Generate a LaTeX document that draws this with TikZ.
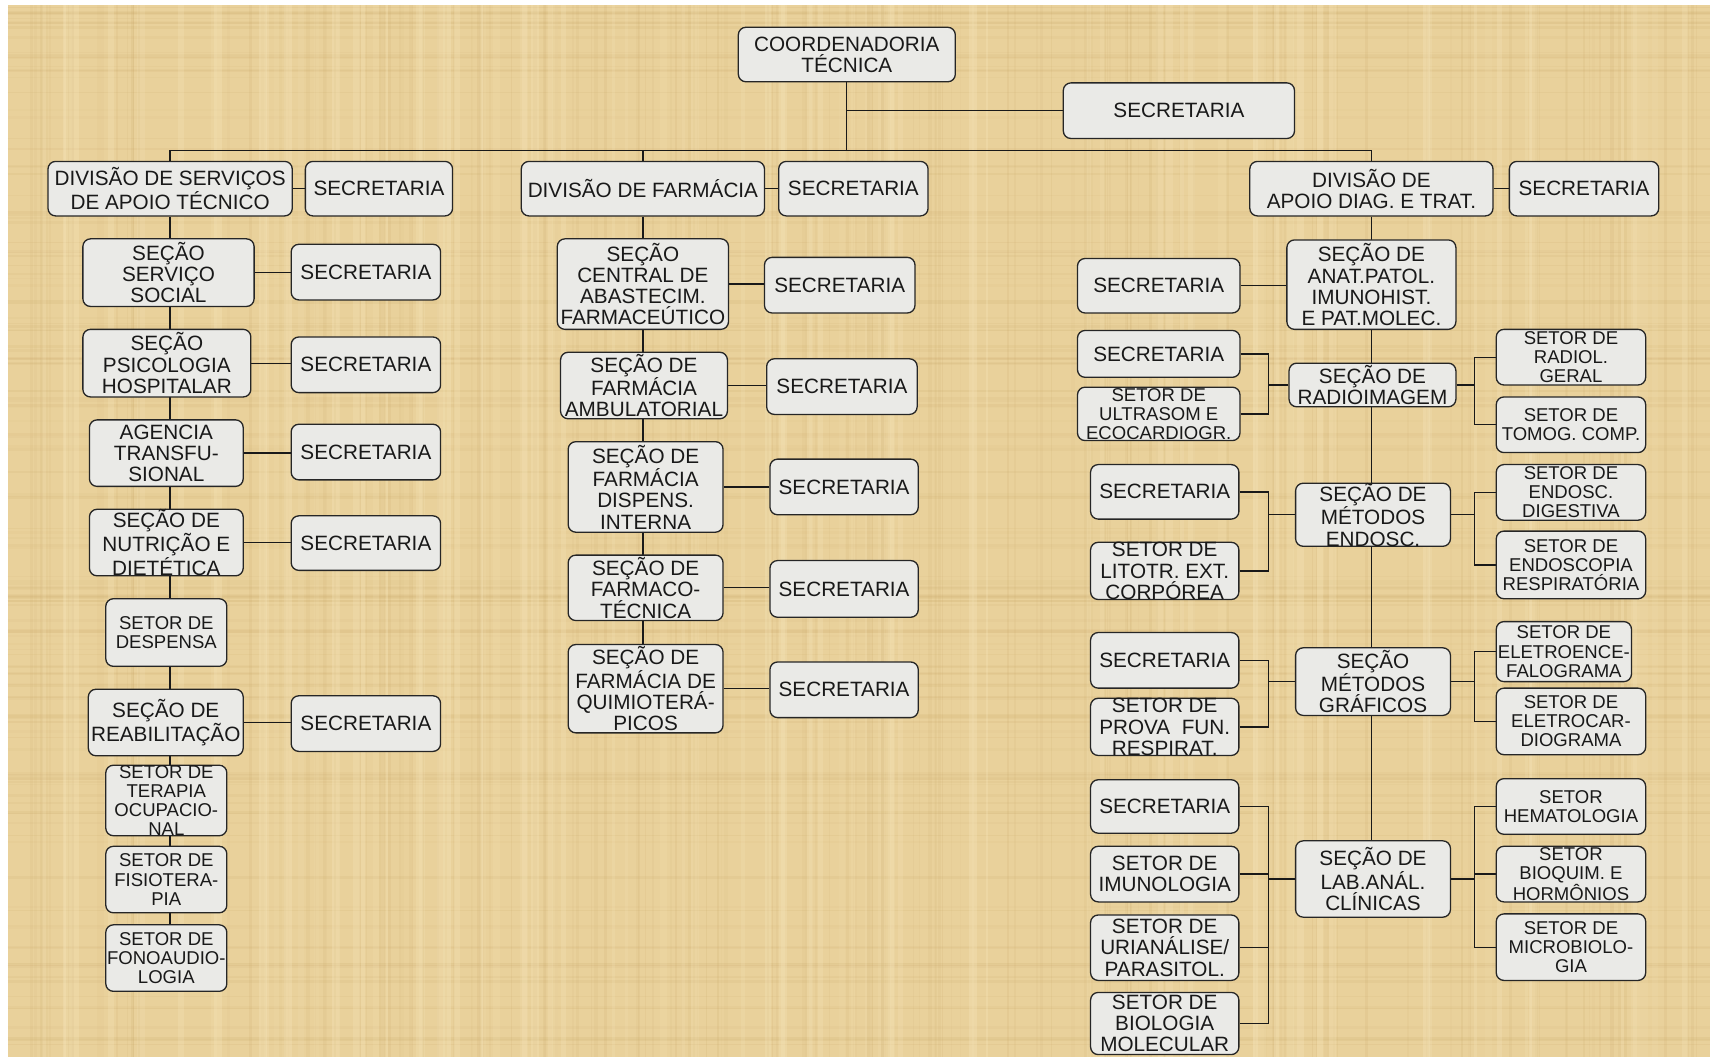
\documentclass[tikz,border=0pt]{standalone}
\usepackage{fontspec}
\setmainfont{Liberation Sans}
\usetikzlibrary{calc}
\definecolor{parch}{RGB}{233,209,155}
\definecolor{parchdark}{RGB}{196,160,95}
\definecolor{parchlight}{RGB}{248,232,190}
\definecolor{boxfill}{RGB}{234,234,231}
\definecolor{ink}{RGB}{25,25,25}
\pgfdeclarelayer{paper}
\pgfdeclarelayer{wires}
\pgfsetlayers{paper,wires,main}

\begin{document}
\begin{tikzpicture}[x=1pt,y=-1pt,
  boxat/.code args={#1/#2/#3/#4}{%
    \pgfmathsetmacro\spx{(#1+#3)/2}%
    \pgfmathsetmacro\spy{(#2+#4)/2}%
    \pgfmathsetmacro\spw{#3-#1}%
    \pgfmathsetmacro\sph{#4-#2}%
    \edef\sptmp{\noexpand\tikzset{at={(\spx,\spy)},minimum width=\spw pt,minimum height=\sph pt}}\sptmp},
  unit/.style={draw=black!85, line width=1.2pt, fill=boxfill, rounded corners=7pt,
    inner sep=0pt, align=center, text=ink, font=\fontsize{19}{19.5}\selectfont},
  small/.style={unit, font=\fontsize{17}{17.6}\selectfont},
  link/.style={draw=black!90, line width=1.2pt}]

\useasboundingbox (0,0) rectangle (1568,969);

% parchment sheet
\begin{pgfonlayer}{paper}
  \fill[white] (0,0) rectangle (1568,969);
  \fill[parch] (7,4.6) rectangle (1568,969);
  \pgfmathsetseed{11}
  \begin{scope}
    \clip (7,4.6) rectangle (1568,969);
    \foreach \i in {1,...,140}{
      \pgfmathsetmacro\yy{6+rnd*962}
      \pgfmathsetmacro\op{0.04+0.10*rnd}
      \pgfmathsetmacro\lw{0.8+2.5*rnd}
      \draw[parchdark, opacity=\op, line width=\lw pt] (7,\yy) -- (1568,\yy);
    }
    \foreach \i in {1,...,160}{
      \pgfmathsetmacro\xx{8+rnd*1560}
      \pgfmathsetmacro\op{0.04+0.10*rnd}
      \pgfmathsetmacro\lw{0.8+2.5*rnd}
      \draw[parchdark, opacity=\op, line width=\lw pt] (\xx,4.6) -- (\xx,969);
    }
    \foreach \i in {1,...,90}{
      \pgfmathsetmacro\xx{8+rnd*1560}
      \pgfmathsetmacro\op{0.10+0.20*rnd}
      \pgfmathsetmacro\lw{2+6*rnd}
      \draw[parchlight, opacity=\op, line width=\lw pt] (\xx,4.6) -- (\xx,969);
    }
  \end{scope}
\end{pgfonlayer}

% ---------- top level ----------
\node[unit, boxat=677/25/876/75] (coord) {COORDENADORIA\\TÉCNICA};
\node[unit, boxat=975/76/1187/127] (sec0) {SECRETARIA};

\node[unit, boxat=44/148/268/198] (div1) {DIVISÃO DE SERVIÇOS\\DE APOIO TÉCNICO};
\node[unit, boxat=280/148/415/198] (sec1) {SECRETARIA};
\node[unit, boxat=478/148/701/198] (div2) {DIVISÃO DE FARMÁCIA};
\node[unit, boxat=714/148/851/198] (sec2) {SECRETARIA};
\node[unit, boxat=1146/148/1369/198] (div3) {DIVISÃO DE\\APOIO DIAG. E TRAT.};
\node[unit, boxat=1384/148/1521/198] (sec3) {SECRETARIA};

% ---------- support services ----------
\node[unit, boxat=76/219/233/281] (ss) {SEÇÃO\\SERVIÇO\\SOCIAL};
\node[unit, boxat=267/224/404/275] (ssS) {SECRETARIA};
\node[unit, boxat=76/302/230/364] (ps) {SEÇÃO\\PSICOLOGIA\\HOSPITALAR};
\node[unit, boxat=267/309/404/360] (psS) {SECRETARIA};
\node[unit, boxat=82/385/223/446] (ag) {AGENCIA\\TRANSFU-\\SIONAL};
\node[unit, boxat=267/389/404/440] (agS) {SECRETARIA};
\node[unit, boxat=82/467/223/528] (nu) {SEÇÃO DE\\NUTRIÇÃO E\\DIETÉTICA};
\node[unit, boxat=267/473/404/523] (nuS) {SECRETARIA};
\node[small, boxat=97/549/208/611] (de) {SETOR DE\\DESPENSA};
\node[unit, boxat=81/632/223/693] (re) {SEÇÃO DE\\REABILITAÇÃO};
\node[unit, boxat=267/638/404/689] (reS) {SECRETARIA};
\node[small, boxat=97/703/208/765] (te) {SETOR DE\\TERAPIA\\OCUPACIO-\\NAL};
\node[small, boxat=97/776/208/837] (fi) {SETOR DE\\FISIOTERA-\\PIA};
\node[small, boxat=97/848/208/909] (fo) {SETOR DE\\FONOAUDIO-\\LOGIA};

% ---------- pharmacy ----------
\node[unit, boxat=511/219/668/302] (ce) {SEÇÃO\\CENTRAL DE\\ABASTECIM.\\FARMACEÚTICO};
\node[unit, boxat=701/236/839/287] (ceS) {SECRETARIA};
\node[unit, boxat=514/323/667/384] (am) {SEÇÃO DE\\FARMÁCIA\\AMBULATORIAL};
\node[unit, boxat=703/329/841/380] (amS) {SECRETARIA};
\node[unit, boxat=521/405/663/488] (di) {SEÇÃO DE\\FARMÁCIA\\DISPENS.\\INTERNA};
\node[unit, boxat=706/421/842/472] (diS) {SECRETARIA};
\node[unit, boxat=521/509/663/569] (ft) {SEÇÃO DE\\FARMACO-\\TÉCNICA};
\node[unit, boxat=706/514/842/566] (ftS) {SECRETARIA};
\node[unit, boxat=521/591/663/672] (qu) {SEÇÃO DE\\FARMÁCIA DE\\QUIMIOTERÁ-\\PICOS};
\node[unit, boxat=706/607/842/658] (quS) {SECRETARIA};

% ---------- diagnosis and treatment ----------
\node[unit, boxat=1180/220/1335/302] (an) {SEÇÃO DE\\ANAT.PATOL.\\IMUNOHIST.\\E PAT.MOLEC.};
\node[unit, boxat=988/237/1137/287] (anS) {SECRETARIA};

\node[unit, boxat=1182/333/1335/373] (ra) {SEÇÃO DE\\RADIOIMAGEM};
\node[unit, boxat=988/303/1137/346] (raS) {SECRETARIA};
\node[small, boxat=988/355/1137/404] (us) {SETOR DE\\ULTRASOM E\\ECOCARDIOGR.};
\node[small, boxat=1372/302/1509/353] (rg) {SETOR DE\\RADIOL.\\GERAL};
\node[small, boxat=1372/364/1509/415] (tc) {SETOR DE\\TOMOG. COMP.};

\node[unit, boxat=1188/446/1330/498] (en) {SEÇÃO DE\\MÉTODOS\\ENDOSC.};
\node[unit, boxat=1000/426/1136/476] (enS) {SECRETARIA};
\node[unit, boxat=1000/498/1136/549] (li) {SETOR DE\\LITOTR. EXT.\\CORPÓREA};
\node[small, boxat=1372/426/1509/477] (ed) {SETOR DE\\ENDOSC.\\DIGESTIVA};
\node[small, boxat=1372/487/1509/549] (er) {SETOR DE\\ENDOSCOPIA\\RESPIRATÓRIA};

\node[unit, boxat=1188/594/1330/656] (gr) {SEÇÃO\\MÉTODOS\\GRÁFICOS};
\node[unit, boxat=1000/580/1136/631] (grS) {SECRETARIA};
\node[unit, boxat=1000/641/1136/692] (pf) {SETOR DE\\PROVA~ FUN.\\RESPIRAT.};
\node[small, boxat=1372/570/1496/625] (ee) {SETOR DE\\ELETROENCE-\\FALOGRAMA};
\node[small, boxat=1372/631/1509/692] (ec) {SETOR DE\\ELETROCAR-\\DIOGRAMA};

\node[unit, boxat=1188/771/1330/841] (la) {SEÇÃO DE\\LAB.ANÁL.\\CLÍNICAS};
\node[unit, boxat=1000/715/1136/764] (laS) {SECRETARIA};
\node[unit, boxat=1000/776/1136/827] (im) {SETOR DE\\IMUNOLOGIA};
\node[unit, boxat=1000/839/1136/899] (ur) {SETOR DE\\URIANÁLISE/\\PARASITOL.};
\node[unit, boxat=1000/910/1136/967] (bi) {SETOR DE\\BIOLOGIA\\MOLECULAR};
\node[small, boxat=1372/714/1509/765] (he) {SETOR\\HEMATOLOGIA};
\node[small, boxat=1372/776/1509/827] (bq) {SETOR\\BIOQUIM. E\\HORMÔNIOS};
\node[small, boxat=1372/838/1509/899] (mi) {SETOR DE\\MICROBIOLO-\\GIA};

% ---------- connectors ----------
\coordinate (bus) at (777,138);
\coordinate (lbr) at (1163,0);
\coordinate (rbr) at (1352,0);

\begin{pgfonlayer}{wires}
  \draw[link] (coord.south) -- (coord.south |- bus);
  \draw[link] (sec0.west) -- (sec0.west -| coord.south);
  \draw[link] (div1.north) |- (div3.north |- bus) -- (div3.north);
  \draw[link] (div2.north) -- (div2.north |- bus);
  \draw[link] (div1.east) -- (sec1.west);
  \draw[link] (div2.east) -- (sec2.west);
  \draw[link] (div3.east) -- (sec3.west);

  % trunks
  \draw[link] (div1.south) -- (div1.south |- fo.north);
  \draw[link] (div2.south) -- (div2.south |- qu.north);
  \draw[link] (div3.south) -- (div3.south |- la.north);

  % sections to their secretariats
  \foreach \s in {ss,ps,ag,nu,re,ce,am,di,ft,qu}
    \draw[link] (\s.east) -- (\s.east -| \s S.west);
  \draw[link] (anS.east) -- (anS.east -| an.west);

  % left brackets
  \foreach \p/\a/\b in {ra/raS/us, en/enS/li, gr/grS/pf}{
    \draw[link] (\p.west) -- (\p.west -| lbr);
    \draw[link] (\a.east) -| (\p.west -| lbr);
    \draw[link] (\b.east) -| (\p.west -| lbr);
  }
  \draw[link] (la.west) -- (la.west -| lbr);
  \foreach \c in {laS,im,ur,bi}
    \draw[link] (\c.east) -| (la.west -| lbr);

  % right brackets
  \foreach \p/\a/\b in {ra/rg/tc, en/ed/er, gr/ee/ec}{
    \draw[link] (\p.east) -- (\p.east -| rbr);
    \draw[link] (\a.west) -| (\p.east -| rbr);
    \draw[link] (\b.west) -| (\p.east -| rbr);
  }
  \draw[link] (la.east) -- (la.east -| rbr);
  \foreach \c in {he,bq,mi}
    \draw[link] (\c.west) -| (la.east -| rbr);
\end{pgfonlayer}
\end{tikzpicture}
\end{document}
